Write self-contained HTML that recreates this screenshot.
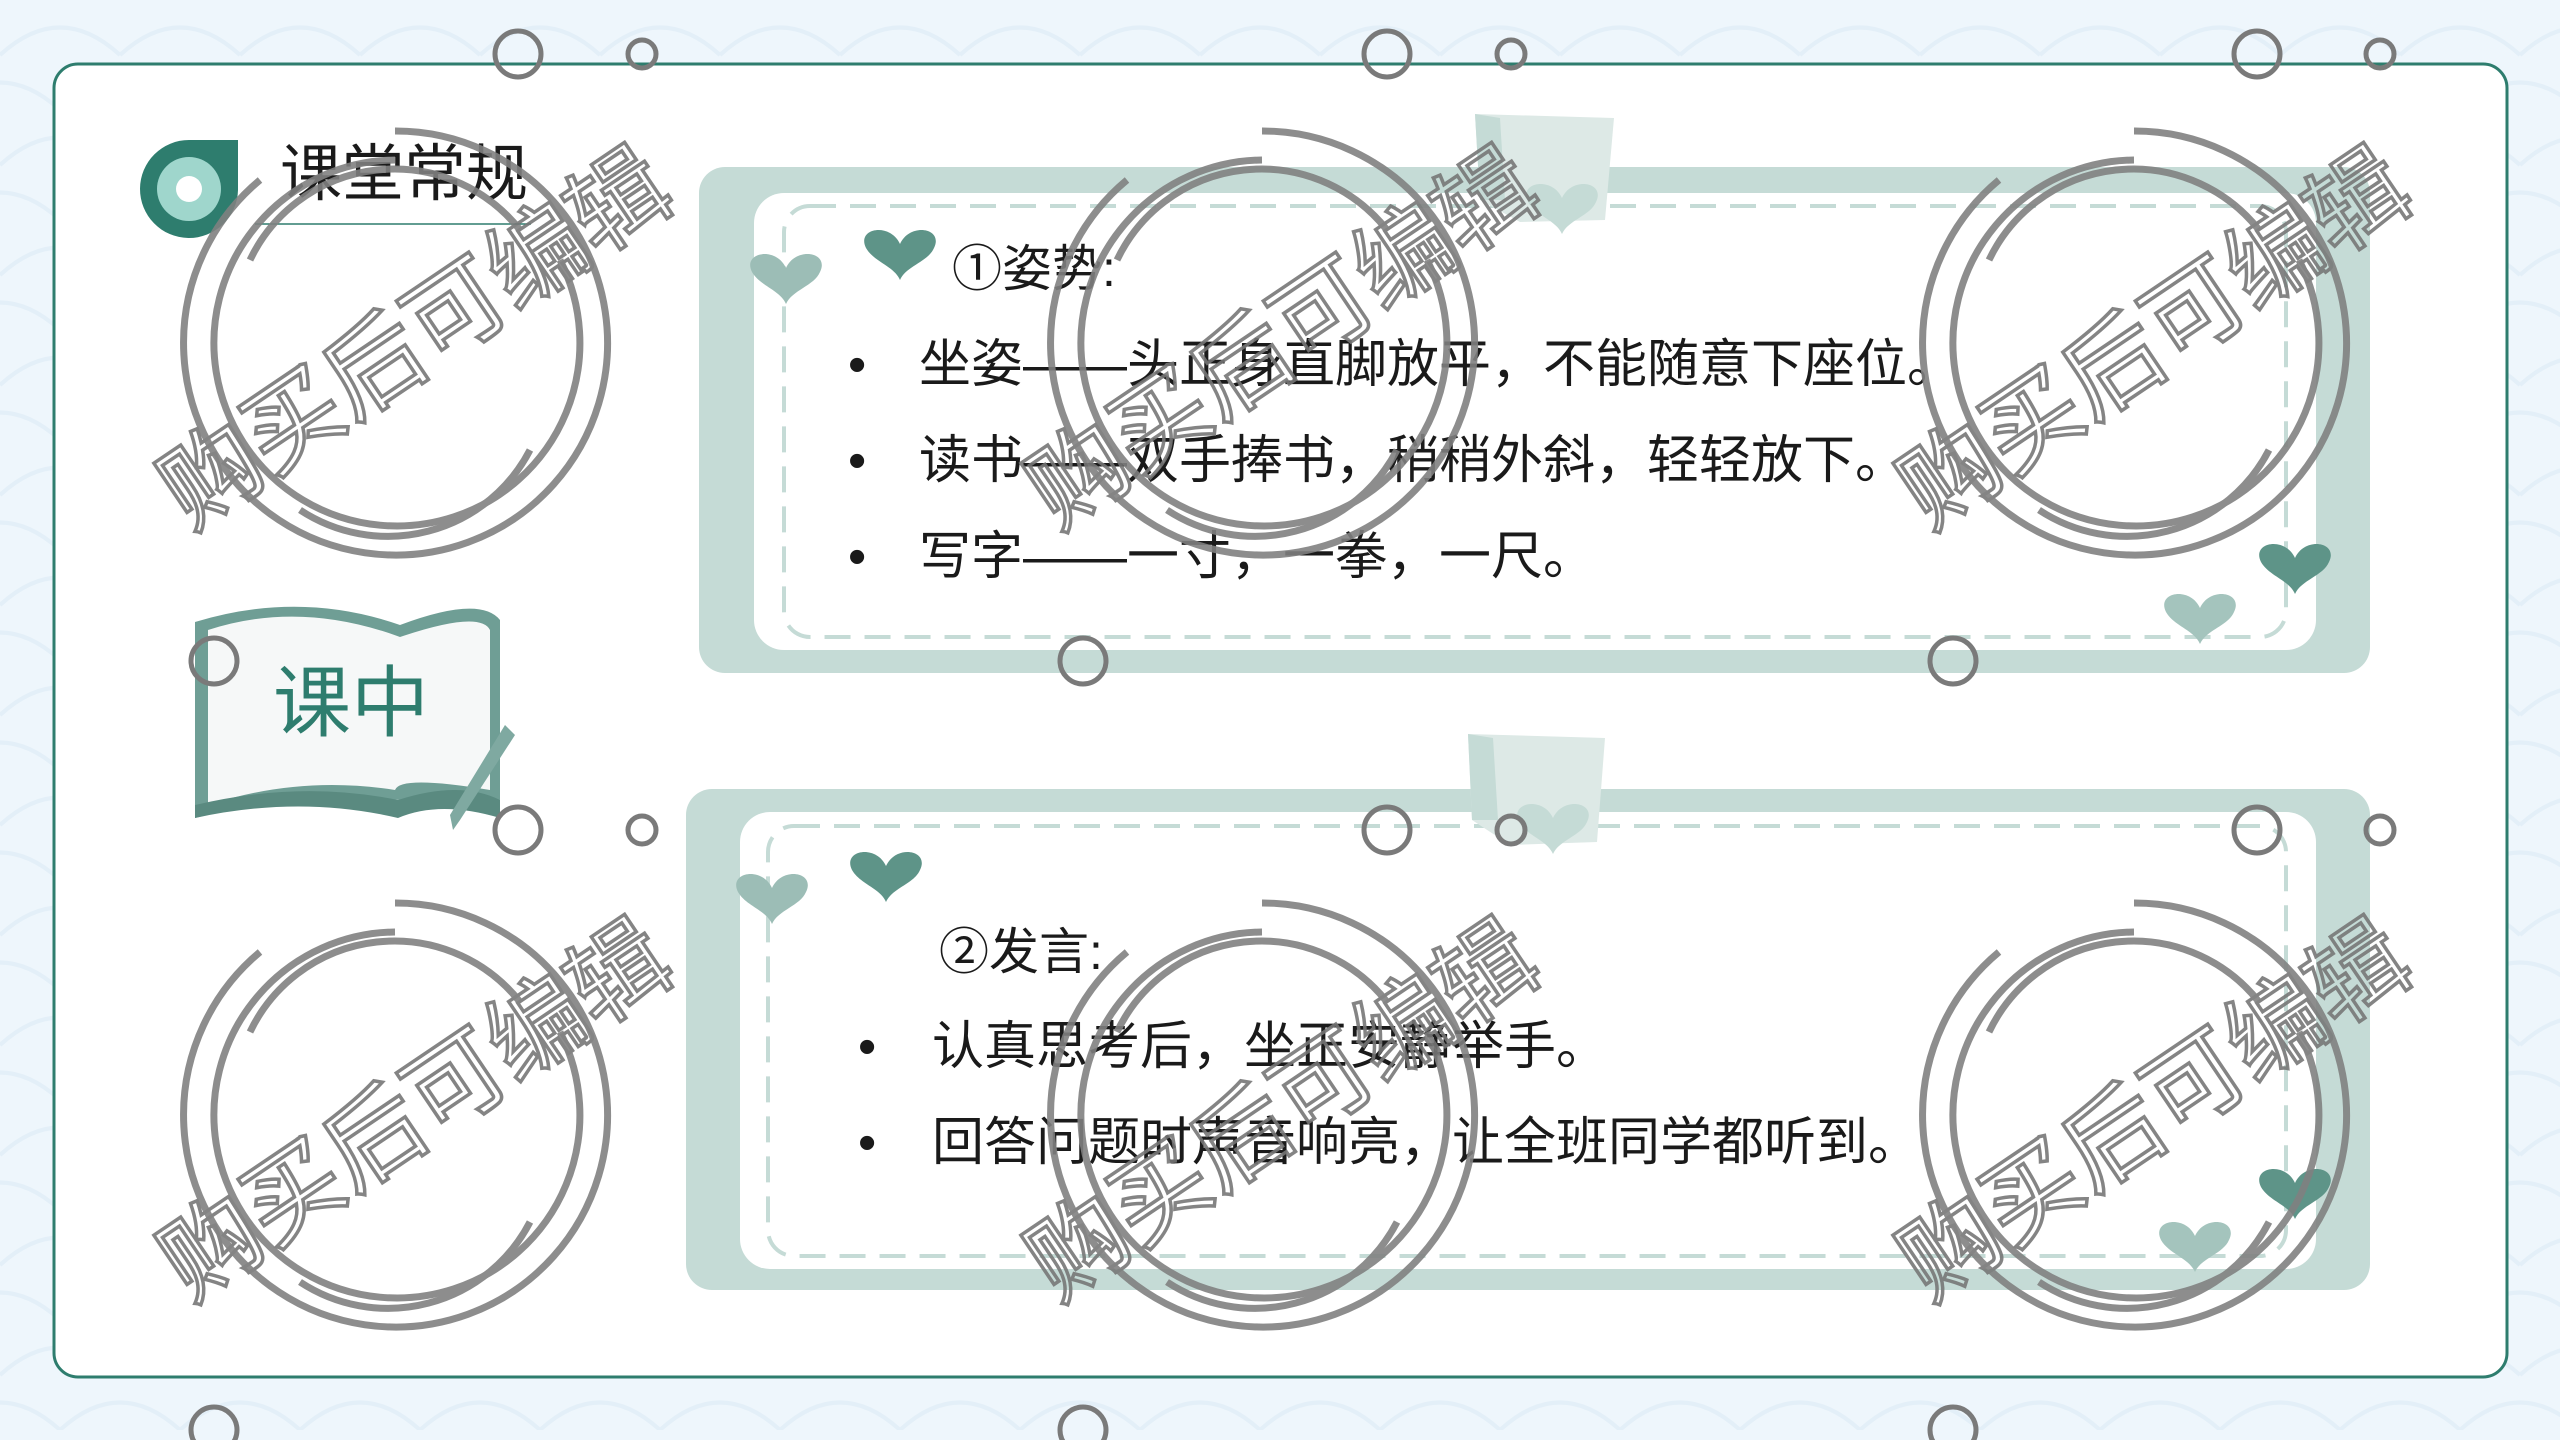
<!DOCTYPE html>
<html><head><meta charset="utf-8">
<style>
html,body{margin:0;padding:0;width:2560px;height:1440px;overflow:hidden;background:#eef5fb;}
svg{display:block;}
text{font-family:"Liberation Sans","Noto Sans CJK SC",sans-serif;}
</style></head>
<body>
<svg width="2560" height="1440" viewBox="0 0 2560 1440" xmlns="http://www.w3.org/2000/svg">
<defs>
<pattern id="sc" width="120" height="110" patternUnits="userSpaceOnUse">
<rect width="120" height="110" fill="#eef6fc"/>
<path d="M0 55 Q60 0 120 55" fill="none" stroke="#e3eff8" stroke-width="4"/>
<path d="M-60 110 Q0 55 60 110 Q120 55 180 110" fill="none" stroke="#e3eff8" stroke-width="4"/>
</pattern>
<g id="heart"><path d="M0 18 C-10 -4 -44 2 -34 22 C-26 36 -6 40 0 54 C6 40 28 36 34 22 C44 2 10 -4 0 18Z"/></g>
</defs>
<rect width="2560" height="1440" fill="url(#sc)"/>
<rect x="54" y="64" width="2453" height="1313" rx="24" fill="#ffffff" stroke="#2e7d6e" stroke-width="3"/>

<path d="M189 140 L238 140 L238 190 A49 49 0 1 1 189 140Z" fill="#2e7d6e"/>
<circle cx="189" cy="189" r="32" fill="#9fd6cc"/>
<circle cx="189" cy="189" r="13" fill="#ffffff"/>
<text x="280" y="195" font-size="62" fill="#1a1a1a">课堂常规</text>
<line x1="255" y1="224" x2="531" y2="224" stroke="#2e7d6e" stroke-width="1.5"/>

<path d="M195 622 Q300 590 400 625 Q480 595 500 620 L500 800 Q430 790 400 800 Q300 790 195 818Z" fill="#6f9e95"/>
<path d="M208 630 Q300 600 400 637 Q480 610 490 630 L490 790 Q400 775 395 790 Q300 775 208 805Z" fill="#f6f8f8"/>
<path d="M195 805 Q300 780 398 800 Q460 780 500 800 L500 818 Q440 800 398 818 Q300 795 195 818Z" fill="#5a8a80"/>
<text x="351" y="730" font-size="78" fill="#2e7d6e" text-anchor="middle">课中</text>
<path d="M505 725 L515 735 L460 820 L453 830 L450 815Z" fill="#7fa9a1"/>

<rect x="699" y="167" width="1671" height="506" rx="26" fill="#c5dbd6"/>
<rect x="754" y="193" width="1562" height="457" rx="30" fill="#ffffff"/>
<rect x="784" y="206" width="1502" height="431" rx="26" fill="none" stroke="#c5dbd6" stroke-width="4" stroke-dasharray="26 14"/>
<path d="M1475 114 L1614 118 L1605 220 L1520 222 L1480 200Z" fill="#dde9e6"/>
<path d="M1475 114 L1500 118 L1505 200 L1480 200Z" fill="#c5dbd6"/>
<use href="#heart" x="1562" y="180" fill="#c5dbd6"/>
<use href="#heart" x="786" y="250" fill="#9cbdb6"/>
<use href="#heart" x="900" y="226" fill="#5e9488"/>
<use href="#heart" x="2295" y="540" fill="#5e9488"/>
<use href="#heart" x="2200" y="590" fill="#a4c4bd"/>
<text x="952" y="286" font-size="50" fill="#1a1a1a">①姿势:</text>
<g font-size="52" fill="#1a1a1a">
<text x="848" y="382">•</text><text x="919" y="382">坐姿——头正身直脚放平，不能随意下座位。</text>
<text x="848" y="478">•</text><text x="919" y="478">读书——双手捧书，稍稍外斜，轻轻放下。</text>
<text x="848" y="574">•</text><text x="919" y="574">写字——一寸，一拳，一尺。</text>
</g>

<rect x="686" y="789" width="1684" height="501" rx="26" fill="#c5dbd6"/>
<rect x="740" y="812" width="1576" height="457" rx="30" fill="#ffffff"/>
<rect x="768" y="826" width="1518" height="430" rx="26" fill="none" stroke="#c5dbd6" stroke-width="4" stroke-dasharray="26 14"/>
<path d="M1468 734 L1605 738 L1597 842 L1510 845 L1472 820Z" fill="#dde9e6"/>
<path d="M1468 734 L1493 738 L1498 820 L1472 820Z" fill="#c5dbd6"/>
<use href="#heart" x="1553" y="800" fill="#c5dbd6"/>
<use href="#heart" x="772" y="870" fill="#9cbdb6"/>
<use href="#heart" x="886" y="848" fill="#5e9488"/>
<use href="#heart" x="2295" y="1165" fill="#5e9488"/>
<use href="#heart" x="2195" y="1218" fill="#a4c4bd"/>
<text x="939" y="969" font-size="50" fill="#1a1a1a">②发言:</text>
<g font-size="52" fill="#1a1a1a">
<text x="858" y="1064">•</text><text x="932" y="1064">认真思考后，坐正安静举手。</text>
<text x="858" y="1160">•</text><text x="932" y="1160">回答问题时声音响亮，让全班同学都听到。</text>
</g>

<g fill="none" stroke="#808080" stroke-width="7" opacity="0.9">
<g id="wm">
<path d="M395 131 A212 212 0 1 1 260 180" />
<path d="M395 160 A183 183 0 1 0 560 260"/>
<path d="M300 510 A160 160 0 0 0 530 450"/>
<path d="M250 260 A160 160 0 0 1 520 230"/>
<text x="416" y="372" font-size="98" text-anchor="middle" transform="rotate(-34 416 340)" stroke-width="3.5" fill="none" stroke="#777">购买后可编辑</text>
</g>
<use href="#wm" x="867" y="0"/>
<use href="#wm" x="1739" y="0"/>
<use href="#wm" x="0" y="772"/>
<use href="#wm" x="867" y="772"/>
<use href="#wm" x="1739" y="772"/>
</g>

<g fill="none" stroke="#7a7a7a" stroke-width="5">
<circle cx="518" cy="54" r="23"/><circle cx="642" cy="54" r="14"/>
<circle cx="1387" cy="54" r="23"/><circle cx="1511" cy="54" r="14"/>
<circle cx="2257" cy="54" r="23"/><circle cx="2380" cy="54" r="14"/>
<circle cx="518" cy="830" r="23"/><circle cx="642" cy="830" r="14"/>
<circle cx="1387" cy="830" r="23"/><circle cx="1511" cy="830" r="14"/>
<circle cx="2257" cy="830" r="23"/><circle cx="2380" cy="830" r="14"/>
<circle cx="214" cy="661" r="23"/><circle cx="1083" cy="661" r="23"/><circle cx="1953" cy="661" r="23"/>
<circle cx="214" cy="1430" r="23"/><circle cx="1083" cy="1430" r="23"/><circle cx="1953" cy="1430" r="23"/>
</g>
</svg>
</body></html>
